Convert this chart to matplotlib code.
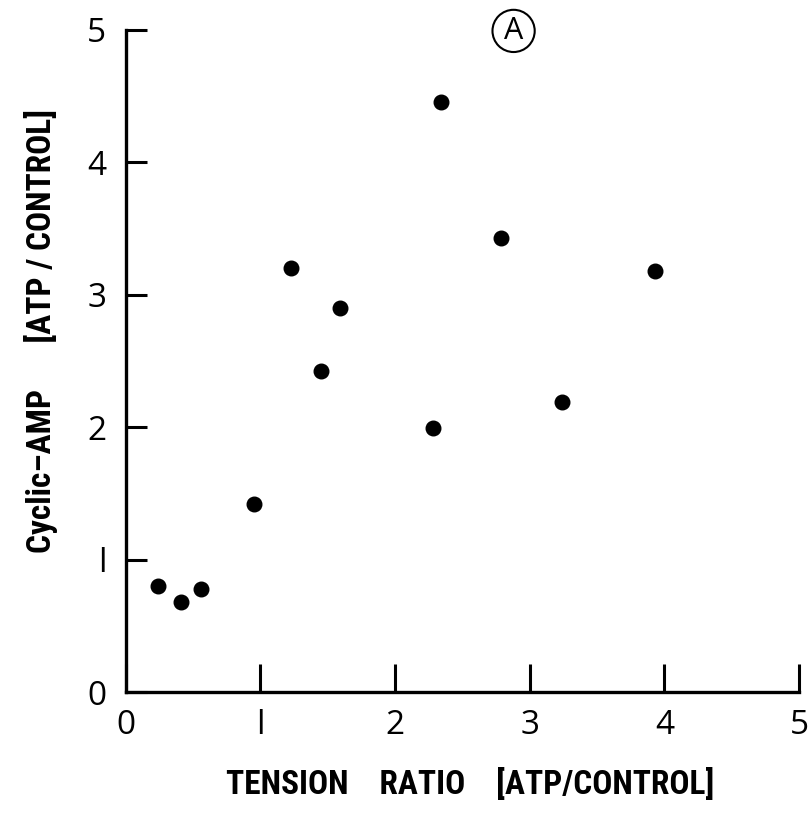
import matplotlib
matplotlib.use("Agg")
import matplotlib.pyplot as plt
from matplotlib import font_manager

tension_ratio = [0.24, 0.41, 0.56, 0.95, 1.23, 1.45, 1.59, 2.28, 2.34, 2.79, 3.24, 3.93]
camp_ratio    = [0.80, 0.68, 0.78, 1.42, 3.20, 2.42, 2.90, 1.99, 4.45, 3.43, 2.19, 3.18]
x_ticks = [0, 1, 2, 3, 4, 5]
y_ticks = [0, 1, 2, 3, 4, 5]
x_tick_labels = ["0", "l", "2", "3", "4", "5"]
y_tick_labels = ["0", "l", "2", "3", "4", "5"]

names = {f.name for f in font_manager.fontManager.ttflist}
cond = None
for cand in ["Liberation Sans Narrow", "DejaVu Sans Condensed", "Roboto Condensed", "Open Sans Condensed"]:
    if cand in names:
        cond = cand
        break

fig = plt.figure(figsize=(8.12, 8.22), dpi=100)
ax = fig.add_axes([0.155, 0.158, 0.829, 0.806])
ax.scatter(tension_ratio, camp_ratio, s=110, color="black", zorder=3)
ax.set_xlim(0, 5)
ax.set_ylim(0, 5)
for s in ["top", "right"]:
    ax.spines[s].set_visible(False)
for s in ["left", "bottom"]:
    ax.spines[s].set_linewidth(2.4)
ax.set_xticks(x_ticks)
ax.set_xticklabels(x_tick_labels)
ax.set_yticks(y_ticks)
ax.set_yticklabels(y_tick_labels)
ax.tick_params(axis="x", direction="in", length=20, width=2.2, pad=12, labelsize=24)
ax.tick_params(axis="y", direction="in", length=15, width=2.2, pad=14, labelsize=24)
for lab in ax.get_xticklabels() + ax.get_yticklabels():
    lab.set_family(["Open Sans", "DejaVu Sans"])

if cond:
    lab_font = dict(family=[cond, "DejaVu Sans"], fontweight="bold", fontsize=24)
else:
    lab_font = dict(family=["DejaVu Sans"], fontweight="bold", fontsize=22, fontstretch="condensed")
fig.text(0.579, 0.046, "TENSION    RATIO    [ATP/CONTROL]", ha="center", va="center", **lab_font)
fig.text(0.05, 0.597, "Cyclic\u2013AMP      [ATP / CONTROL]", ha="center", va="center", rotation=90, **lab_font)

ax.text(2.88, 4.99, "A", ha="center", va="center", fontsize=22,
        family=["Open Sans", "DejaVu Sans"], clip_on=False,
        bbox=dict(boxstyle="circle,pad=0.2", fc="none", ec="black", lw=1.5))

fig.savefig("out.png", dpi=100, facecolor="white")
